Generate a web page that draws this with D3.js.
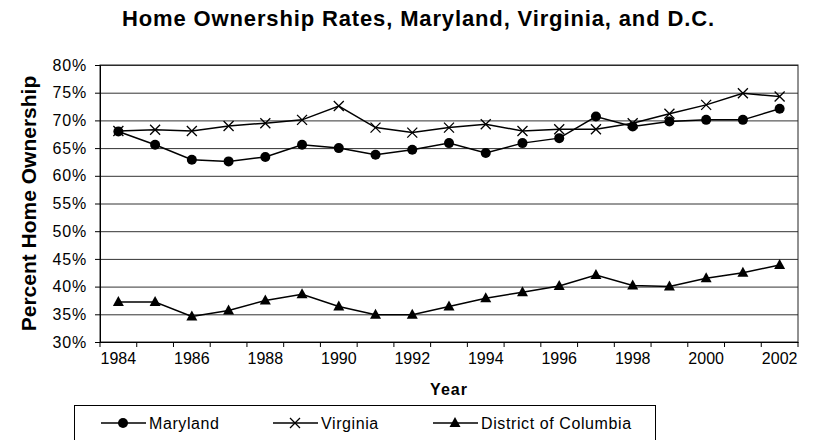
<!DOCTYPE html>
<html>
<head>
<meta charset="utf-8">
<script src="https://cdn.jsdelivr.net/npm/d3@7"></script>
<style>
  body { margin: 0; background: #fff; }
  text { font-family: Arial, "Liberation Sans", sans-serif; fill: #000; }
</style>
</head>
<body>
<div id="chart"></div>
<script>
// data
var years = [1984, 1985, 1986, 1987, 1988, 1989, 1990, 1991, 1992, 1993,
             1994, 1995, 1996, 1997, 1998, 1999, 2000, 2001, 2002];
var maryland = [68.0, 65.6, 62.9, 62.6, 63.4, 65.6, 65.0, 63.8, 64.7, 65.9,
                64.1, 65.9, 66.8, 70.7, 68.9, 69.8, 70.1, 70.1, 72.1];
var virginia = [68.1, 68.3, 68.1, 69.0, 69.5, 70.1, 72.6, 68.7, 67.8, 68.7,
                69.3, 68.1, 68.4, 68.4, 69.5, 71.2, 72.8, 74.9, 74.3];
var dc = [37.2, 37.2, 34.6, 35.7, 37.5, 38.6, 36.4, 34.9, 34.9, 36.4,
          37.9, 39.0, 40.1, 42.1, 40.2, 40.0, 41.5, 42.5, 43.9];
var yTicks = [30, 35, 40, 45, 50, 55, 60, 65, 70, 75, 80];
var xLabels = [1984, 1986, 1988, 1990, 1992, 1994, 1996, 1998, 2000, 2002];
var seriesNames = ["Maryland", "Virginia", "District of Columbia"];

var svgWidth = 813;
var svgHeight = 440;

var margin = { top: 65, right: 15, bottom: 98, left: 100 };
var width = svgWidth - margin.left - margin.right;
var height = svgHeight - margin.top - margin.bottom;

var svg = d3.select("#chart")
  .append("svg")
  .attr("width", svgWidth)
  .attr("height", svgHeight);

// title
svg.append("text")
  .attr("x", 122)
  .attr("y", 26)
  .attr("textLength", 592)
  .attr("lengthAdjust", "spacing")
  .style("font-size", "22px")
  .style("font-weight", "bold")
  .text("Home Ownership Rates, Maryland, Virginia, and D.C.");

var chartGroup = svg.append("g")
  .attr("transform", `translate(${margin.left}, ${margin.top})`);

var x = d3.scaleBand()
  .domain(years)
  .range([0, width])
  .padding(0);

var y = d3.scaleLinear()
  .domain([30, 80])
  .range([height, 0]);

var cx = d => x(d) + x.bandwidth() / 2;

// gridlines
chartGroup.append("g")
  .call(d3.axisLeft(y).tickValues(yTicks).tickSize(-width).tickFormat(""))
  .call(g => g.select(".domain").remove())
  .selectAll("line")
  .attr("stroke", "#333");

// plot border
chartGroup.append("rect")
  .attr("width", width)
  .attr("height", height)
  .attr("fill", "none")
  .attr("stroke", "#222");

// y axis
var leftAxis = d3.axisLeft(y)
  .tickValues(yTicks)
  .tickSize(5)
  .tickPadding(8)
  .tickFormat(d => d + "%");

chartGroup.append("g")
  .call(leftAxis)
  .call(g => g.select(".domain").attr("stroke", "#000"))
  .call(g => g.selectAll("line").attr("stroke", "#000"))
  .selectAll("text")
  .style("font-size", "16px")
  .style("letter-spacing", "0.8px")
  .attr("fill", "#000");

// x axis: labels centred on categories, ticks between them
var bottomAxis = d3.axisBottom(x)
  .tickValues(xLabels)
  .tickSize(0)
  .tickPadding(11);

var xAxis = chartGroup.append("g")
  .attr("transform", `translate(0, ${height})`)
  .call(bottomAxis);

xAxis.select(".domain").attr("stroke", "#000");
xAxis.selectAll("text")
  .style("font-size", "16px")
  .attr("fill", "#000");

var edges = years.map(d => x(d)).concat([width]);
xAxis.selectAll(".edge")
  .data(edges)
  .enter()
  .append("line")
  .attr("x1", d => d)
  .attr("x2", d => d)
  .attr("y1", 0)
  .attr("y2", 5)
  .attr("stroke", "#000");

// axis titles
chartGroup.append("text")
  .attr("x", width / 2)
  .attr("y", height + 53)
  .attr("text-anchor", "middle")
  .style("font-size", "16px")
  .style("font-weight", "bold")
  .style("letter-spacing", "1px")
  .text("Year");

chartGroup.append("text")
  .attr("transform", "rotate(-90)")
  .attr("x", 0 - (height / 2))
  .attr("y", 36 - margin.left)
  .attr("text-anchor", "middle")
  .style("font-size", "21px")
  .style("font-weight", "bold")
  .text("Percent Home Ownership");

// markers
var triangle = "M0,-6L5.5,4L-5.5,4Z";
var cross = "M-5,-5L5,5M-5,5L5,-5";

function drawMarker(g, type) {
  if (type === 0) {
    g.append("circle").attr("r", 5).attr("fill", "#000");
  } else if (type === 1) {
    g.append("path").attr("d", cross).attr("stroke", "#000")
      .attr("stroke-width", 1.3).attr("fill", "none");
  } else {
    g.append("path").attr("d", triangle).attr("fill", "#000");
  }
}

var series = [maryland, virginia, dc];

var line = d3.line()
  .x((d, i) => cx(years[i]))
  .y(d => y(d));

series.forEach(function(values, s) {
  chartGroup.append("path")
    .datum(values)
    .attr("fill", "none")
    .attr("stroke", "#000")
    .attr("stroke-width", 1.5)
    .attr("d", line);

  chartGroup.selectAll(".m" + s)
    .data(values)
    .enter()
    .append("g")
    .attr("class", "m" + s)
    .attr("transform", (d, i) => `translate(${cx(years[i])}, ${y(d)})`)
    .each(function() { drawMarker(d3.select(this), s); });
});

// legend
var legend = svg.append("g");

legend.append("rect")
  .attr("x", 74.5)
  .attr("y", 405.5)
  .attr("width", 581)
  .attr("height", 50)
  .attr("fill", "#fff")
  .attr("stroke", "#000");

var legendX = [101, 273, 433];

seriesNames.forEach(function(name, s) {
  var item = legend.append("g")
    .attr("transform", `translate(${legendX[s]}, 423)`);

  item.append("line")
    .attr("x1", 0)
    .attr("x2", 45)
    .attr("stroke", "#000")
    .attr("stroke-width", 1.5);

  var m = item.append("g").attr("transform", "translate(22, 0)");
  drawMarker(m, s);

  item.append("text")
    .attr("x", 48)
    .attr("y", 5.5)
    .style("font-size", "16px")
    .style("letter-spacing", "0.6px")
    .text(name);
});
</script>
</body>
</html>
